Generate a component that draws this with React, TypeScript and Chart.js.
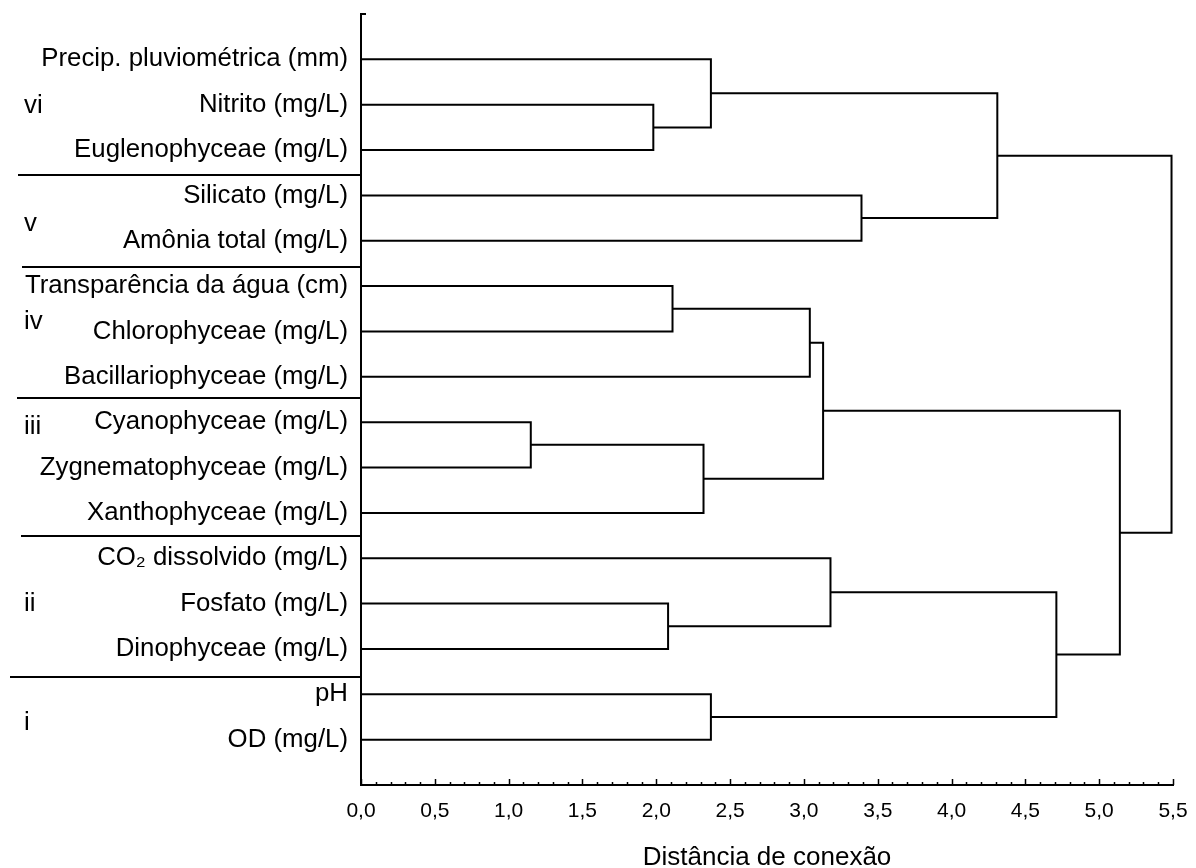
import React, { useEffect, useRef } from "react";
import { Chart, registerables } from "chart.js";

Chart.register(...registerables);

// Variables (leaves), listed from top to bottom of the dendrogram
const LEAVES = [
  "Precip. pluviométrica (mm)",
  "Nitrito (mg/L)",
  "Euglenophyceae (mg/L)",
  "Silicato (mg/L)",
  "Amônia total (mg/L)",
  "Transparência da água (cm)",
  "Chlorophyceae (mg/L)",
  "Bacillariophyceae (mg/L)",
  "Cyanophyceae (mg/L)",
  "Zygnematophyceae (mg/L)",
  "Xanthophyceae (mg/L)",
  "CO₂ dissolvido (mg/L)",
  "Fosfato (mg/L)",
  "Dinophyceae (mg/L)",
  "pH",
  "OD (mg/L)",
];

// Agglomeration steps: merge k joins MERGE_LEFT[k] and MERGE_RIGHT[k]
// (indices < 16 are leaves, index 16 + k is the cluster made at step k)
const MERGE_LEFT = [1, 0, 3, 17, 5, 20, 8, 22, 21, 12, 11, 14, 26, 24, 19];
const MERGE_RIGHT = [2, 16, 4, 18, 6, 7, 9, 10, 23, 13, 25, 15, 27, 28, 29];
const MERGE_DIST = [1.98, 2.37, 3.39, 4.31, 2.11, 3.04, 1.15, 2.32, 3.13, 2.08, 3.18, 2.37, 4.71, 5.14, 5.49];

// Groups marked on the left side
const GROUP_NAMES = ["vi", "v", "iv", "iii", "ii", "i"];
const GROUP_LABEL_AT = [14.97, 12.37, 10.2, 7.89, 3.99, 1.35];
const GROUP_BOUNDS = [13.45, 11.42, 8.53, 5.49, 2.38];

// Distance axis
const X_MIN = 0;
const X_MAX = 5.5;
const X_STEP = 0.5;
const X_MINOR_STEP = 0.1;
const X_TITLE = "Distância de conexão";

const FONT = "'Liberation Sans', Arial, Helvetica, sans-serif";
const SEPARATOR_X_START = [18, 22, 17, 21, 10];

function leafValue(i: number) {
  return LEAVES.length - i;
}

function buildSegments() {
  const n = LEAVES.length;
  const pos: { x: number; y: number }[] = [];
  for (let i = 0; i < n; i++) pos.push({ x: 0, y: leafValue(i) });
  const segments: { x: number; y: number }[][] = [];
  for (let k = 0; k < MERGE_DIST.length; k++) {
    const a = pos[MERGE_LEFT[k]];
    const b = pos[MERGE_RIGHT[k]];
    const h = MERGE_DIST[k];
    segments.push([
      { x: a.x, y: a.y },
      { x: h, y: a.y },
      { x: h, y: b.y },
      { x: b.x, y: b.y },
    ]);
    pos.push({ x: h, y: (a.y + b.y) / 2 });
  }
  return segments;
}

const extrasPlugin = {
  id: "dendroExtras",
  afterDraw(chart: any) {
    const { ctx, chartArea, scales } = chart;
    const xs = scales.x;
    const ys = scales.y;
    ctx.save();
    ctx.strokeStyle = "#000";
    ctx.fillStyle = "#000";
    ctx.lineCap = "butt";

    // tick marks on the distance axis, pointing inward
    const nMinor = Math.round((X_MAX - X_MIN) / X_MINOR_STEP);
    const perMajor = Math.round(X_STEP / X_MINOR_STEP);
    ctx.lineWidth = 1.5;
    for (let i = 0; i <= nMinor; i++) {
      const v = X_MIN + i * X_MINOR_STEP;
      const px = Math.round(xs.getPixelForValue(v)) + 0.5;
      const len = i % perMajor === 0 ? 6 : 3;
      ctx.beginPath();
      ctx.moveTo(px, chartArea.bottom);
      ctx.lineTo(px, chartArea.bottom - len);
      ctx.stroke();
    }

    // short stub at the top of the vertical axis
    ctx.lineWidth = 2;
    ctx.beginPath();
    ctx.moveTo(chartArea.left, chartArea.top);
    ctx.lineTo(chartArea.left + 5, chartArea.top);
    ctx.stroke();

    // group separators
    GROUP_BOUNDS.forEach((b, i) => {
      const py = Math.round(ys.getPixelForValue(b));
      ctx.beginPath();
      ctx.moveTo(SEPARATOR_X_START[i], py);
      ctx.lineTo(chartArea.left, py);
      ctx.stroke();
    });

    // group names
    const fs = 25.8;
    ctx.font = `${fs}px ${FONT}`;
    ctx.textAlign = "left";
    ctx.textBaseline = "alphabetic";
    GROUP_NAMES.forEach((g, i) => {
      const py = ys.getPixelForValue(GROUP_LABEL_AT[i]);
      ctx.fillText(g, 24, py + 0.26 * fs);
    });
    ctx.restore();
  },
};

export default function App() {
  const ref = useRef<HTMLCanvasElement | null>(null);

  useEffect(() => {
    if (!ref.current) return;
    const segments = buildSegments();
    const leafVals = LEAVES.map((_, i) => leafValue(i));
    const chart = new Chart(ref.current, {
      type: "scatter",
      data: {
        datasets: segments.map((seg) => ({
          data: seg,
          showLine: true,
          borderColor: "#000",
          borderWidth: 2,
          pointRadius: 0,
          pointHoverRadius: 0,
          fill: false,
          tension: 0,
          borderJoinStyle: "miter" as const,
          borderCapStyle: "butt" as const,
        })),
      },
      options: {
        responsive: false,
        animation: false,
        events: [],
        layout: { padding: { top: 14, right: 23, left: 0, bottom: 0 } },
        plugins: {
          legend: { display: false },
          tooltip: { enabled: false },
          title: { display: false },
        },
        scales: {
          x: {
            type: "linear",
            min: X_MIN,
            max: X_MAX,
            grid: { display: false, drawTicks: false },
            border: { display: true, color: "#000", width: 2 },
            ticks: {
              stepSize: X_STEP,
              padding: 14,
              color: "#000",
              font: { family: FONT, size: 21 },
              callback: (v: any) => Number(v).toFixed(1).replace(".", ","),
            },
            title: {
              display: true,
              text: X_TITLE,
              color: "#000",
              font: { family: FONT, size: 26 },
              padding: { top: 0, bottom: -5 },
            },
            afterFit: (scale: any) => {
              scale.height = 83;
              scale.paddingLeft = 0;
              scale.paddingRight = 0;
            },
          },
          y: {
            type: "linear",
            min: 0,
            max: LEAVES.length + 1,
            grid: { display: false, drawTicks: false },
            border: { display: true, color: "#000", width: 2 },
            afterBuildTicks: (scale: any) => {
              scale.ticks = leafVals.map((v) => ({ value: v }));
            },
            ticks: {
              autoSkip: false,
              padding: 13,
              color: "#000",
              font: { family: FONT, size: 25.8 },
              callback: (v: any) => {
                const idx = LEAVES.length - Number(v);
                return LEAVES[idx] ?? "";
              },
            },
            afterFit: (scale: any) => {
              scale.width = 361;
              scale.paddingTop = 0;
              scale.paddingBottom = 0;
            },
          },
        },
      },
      plugins: [extrasPlugin],
    });
    return () => chart.destroy();
  }, []);

  return (
    <div style={{ position: "fixed", left: 0, top: 0, width: 1196, height: 868, background: "#fff" }}>
      <canvas ref={ref} width={1196} height={868} style={{ display: "block" }} />
    </div>
  );
}
